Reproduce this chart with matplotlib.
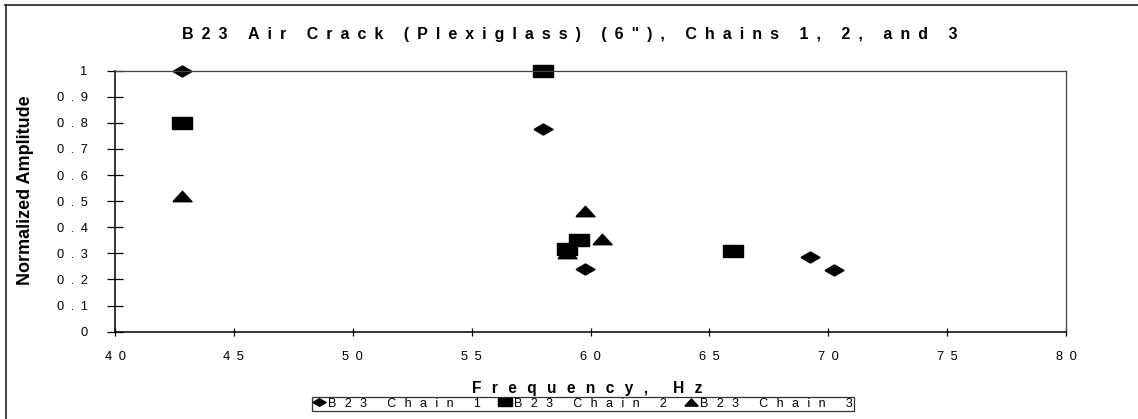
import matplotlib
matplotlib.use("Agg")
import matplotlib.pyplot as plt
from matplotlib.lines import Line2D

# ---- data -------------------------------------------------------------
chain1_freq = [42.8, 58.0, 59.75, 69.25, 70.25]
chain1_amp = [1.0, 0.777, 0.241, 0.286, 0.238]

chain2_freq = [42.8, 58.0, 59.0, 59.5, 66.0]
chain2_amp = [0.798, 1.0, 0.317, 0.35, 0.31]

chain3_freq = [42.8, 59.0, 59.75, 60.5]
chain3_amp = [0.52, 0.30, 0.464, 0.355]

series_names = ["B23 Chain 1", "B23 Chain 2", "B23 Chain 3"]
x_ticks = [40, 45, 50, 55, 60, 65, 70, 75, 80]
x_tick_labels = ["40", "45", "50", "55", "60", "65", "70", "75", "80"]
y_ticks = [0, 0.1, 0.2, 0.3, 0.4, 0.5, 0.6, 0.7, 0.8, 0.9, 1.0]
y_tick_labels = ["0", "0.1", "0.2", "0.3", "0.4", "0.5", "0.6", "0.7",
                 "0.8", "0.9", "1"]
title_text = 'B23 Air Crack (Plexiglass) (6"), Chains 1, 2, and 3'
x_label = "Frequency, Hz"
y_label = "Normalized Amplitude"

# ---- styling helpers ----------------------------------------------------
FONT = ["Liberation Sans", "DejaVu Sans"]
plt.rcParams["font.family"] = FONT

EN = "\u2002"
SIXTH = "\u2006"


def tracked(s, gap):
    """Spread the characters of a label apart (wide letter tracking)."""
    return gap.join(list(s))


# flattened marker shapes
DIAMOND = [(-1, 0), (0, 0.58), (1, 0), (0, -0.58), (-1, 0)]
SQUARE = [(-1, -0.58), (1, -0.58), (1, 0.58), (-1, 0.58), (-1, -0.58)]
TRIANGLE = [(-1, -0.55), (0, 0.55), (1, -0.55), (-1, -0.55)]
MS = 13.7

W, H = 1138, 419
fig = plt.figure(figsize=(W / 100, H / 100), dpi=100)
fig.patch.set_facecolor("white")

# outer chart border (top and left edges)
fig.add_artist(Line2D([5 / W, 1], [1 - 5.5 / H, 1 - 5.5 / H], color="#222222",
                      lw=1.2, transform=fig.transFigure))
fig.add_artist(Line2D([5.5 / W, 5.5 / W], [0, 1 - 5.5 / H], color="#222222",
                      lw=1.2, transform=fig.transFigure))

ax_left, ax_right, ax_top, ax_bottom = 115, 1066, 70.7, 331.7
ax = fig.add_axes([ax_left / W, 1 - ax_bottom / H,
                   (ax_right - ax_left) / W, (ax_bottom - ax_top) / H])

ax.plot(chain1_freq, chain1_amp, linestyle="none", marker=DIAMOND, ms=MS,
        color="black", mec="black", label=series_names[0], clip_on=False)
ax.plot(chain2_freq, chain2_amp, linestyle="none", marker=SQUARE, ms=MS,
        color="black", mec="black", label=series_names[1], clip_on=False)
ax.plot(chain3_freq, chain3_amp, linestyle="none", marker=TRIANGLE, ms=MS,
        color="black", mec="black", label=series_names[2], clip_on=False)

ax.set_xlim(40, 80)
ax.set_ylim(0, 1)

ax.set_xticks(x_ticks)
ax.set_xticklabels([tracked(t, EN) for t in x_tick_labels], fontsize=9.3)
ax.set_yticks(y_ticks)
ax.set_yticklabels([tracked(t, EN) for t in y_tick_labels], fontsize=9.3)

ax.tick_params(axis="y", direction="inout", length=11.5, width=0.9,
               pad=14)
ax.tick_params(axis="x", direction="inout", length=5.8, width=0.9,
               pad=11)

for side in ("left", "bottom"):
    ax.spines[side].set_linewidth(1.1)
    ax.spines[side].set_color("black")
for side in ("top", "right"):
    ax.spines[side].set_linewidth(0.9)
    ax.spines[side].set_color("#444444")

# titles
fig.text(570 / W, 1 - 35 / H, tracked(title_text, EN), fontsize=11.5,
         fontweight="bold", ha="center", va="center")
fig.text(587 / W, 1 - 388 / H, tracked(x_label, EN + SIXTH), fontsize=11.2,
         fontweight="bold", ha="center", va="center")
fig.text(26 / W, 1 - 190 / H, y_label, fontsize=13, fontweight="bold",
         rotation=90, ha="center", va="center")

# legend
handles = [
    Line2D([], [], linestyle="none", marker=DIAMOND, ms=9.5, color="black"),
    Line2D([], [], linestyle="none", marker=SQUARE, ms=9.5, color="black"),
    Line2D([], [], linestyle="none", marker=TRIANGLE, ms=9.5, color="black"),
]
leg = fig.legend(handles, [tracked(n, EN + SIXTH) for n in series_names],
                 loc="center", bbox_to_anchor=(583 / W, 1 - 403.5 / H),
                 ncol=3, fontsize=9, frameon=True, fancybox=False,
                 edgecolor="black", borderpad=0.08, handlelength=1.0,
                 handletextpad=0.25, columnspacing=1.4, borderaxespad=0)
leg.get_frame().set_linewidth(0.9)

fig.savefig("out.png", dpi=100, facecolor="white")
